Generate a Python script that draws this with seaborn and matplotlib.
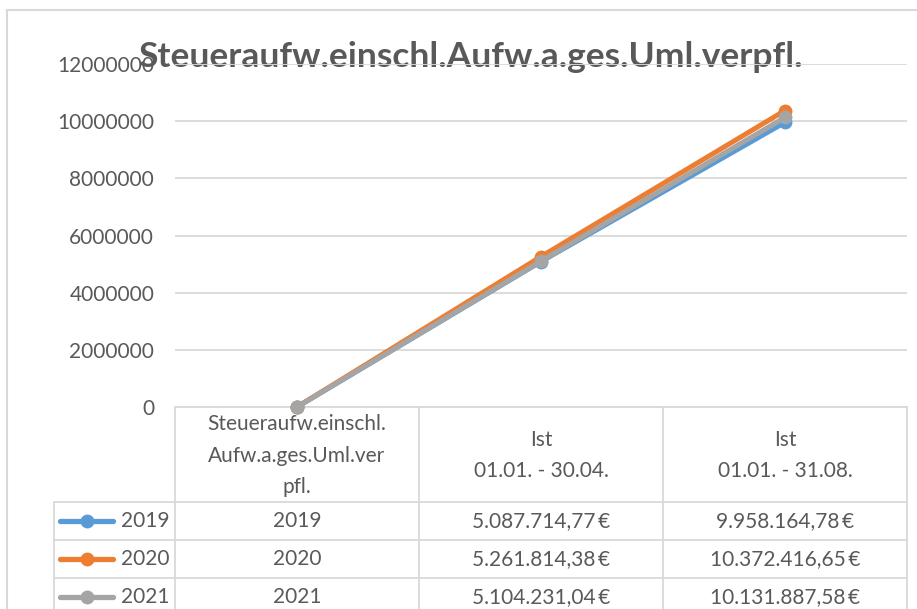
import pandas as pd
import matplotlib.pyplot as plt
import seaborn as sns
from matplotlib.ticker import MultipleLocator, FuncFormatter

# chart data
title = "Steueraufw.einschl.Aufw.a.ges.Uml.verpfl."
categories = ["Steueraufw.einschl.\nAufw.a.ges.Uml.ver\npfl.",
              "Ist\n01.01. - 30.04.",
              "Ist\n01.01. - 31.08."]
years = ["2019", "2020", "2021"]
values_2019 = [2019, 5087714.77, 9958164.78]
values_2020 = [2020, 5261814.38, 10372416.65]
values_2021 = [2021, 5104231.04, 10131887.58]
colors = ["#5B9BD5", "#ED7D31", "#A5A5A5"]

series = {"2019": values_2019, "2020": values_2020, "2021": values_2021}
rows = []
for year in years:
    for i, v in enumerate(series[year]):
        rows.append({"pos": i, "value": v, "year": year})
df = pd.DataFrame(rows)

TXT = "#595959"
GRID = "#D9D9D9"


def euro(v):
    s = f"{v:,.2f}".replace(",", "X").replace(".", ",").replace("X", ".")
    return s + "\u2009€"


sns.set_theme(style="white")
plt.rcParams["font.family"] = ["Lato", "DejaVu Sans"]

W, H = 917, 609
fig = plt.figure(figsize=(W / 100, H / 100), dpi=100)

# background axes in pixel coordinates for frame + data table
bg = fig.add_axes([0, 0, 1, 1])
bg.set_xlim(0, W)
bg.set_ylim(H, 0)
bg.axis("off")

# plot area (pixels)
px0, px1 = 175, 907
py_top, py_bot = 64, 407
ax = fig.add_axes([px0 / W, 1 - py_bot / H, (px1 - px0) / W, (py_bot - py_top) / H])
ax.patch.set_alpha(0)

sns.lineplot(data=df, x="pos", y="value", hue="year", palette=colors,
             marker="o", markersize=10, markeredgewidth=0, linewidth=3.6,
             legend=False, ax=ax)

ax.set_xlim(-0.5, len(categories) - 0.5)
ax.set_ylim(0, 12000000)
ax.yaxis.set_major_locator(MultipleLocator(2000000))
ax.yaxis.set_major_formatter(FuncFormatter(lambda v, p: f"{int(v)}"))
ax.set_xticks([])
ax.set_xlabel("")
ax.set_ylabel("")
ax.tick_params(axis="y", length=0, pad=15, labelsize=15, labelcolor=TXT)
ax.grid(axis="y", color=GRID, linewidth=1.3)
for s in ax.spines.values():
    s.set_visible(False)
for line in ax.get_lines():
    line.set_clip_on(False)

# outer chart frame
bg.plot([7, 7], [10, H], color=GRID, lw=1.5)
bg.plot([7, W], [10, 10], color=GRID, lw=1.5)

# title
bg.text(470, 57, title, ha="center", va="center", fontsize=25.5,
        fontweight="bold", color=TXT)

# data table
col_w = (px1 - px0) / len(categories)
col_edges = [px0 + i * col_w for i in range(len(categories) + 1)]
header_bot = 502
row_h = 38
leg_x0 = 54
row_lines = [header_bot + i * row_h for i in range(len(years) + 1)]

bg.plot([px0, px1], [py_bot, py_bot], color=GRID, lw=1.3)
for y in row_lines:
    bg.plot([leg_x0, px1], [y, y], color=GRID, lw=1.3)
for x in col_edges:
    bg.plot([x, x], [py_bot, H], color=GRID, lw=1.3)
bg.plot([leg_x0, leg_x0], [header_bot, H], color=GRID, lw=1.3)

for i, cat in enumerate(categories):
    cx = (col_edges[i] + col_edges[i + 1]) / 2
    bg.text(cx, (py_bot + header_bot) / 2 + 1, cat, ha="center", va="center",
            fontsize=15, color=TXT, linespacing=1.7)

for r, year in enumerate(years):
    cy = header_bot + r * row_h + row_h / 2
    for i, v in enumerate(series[year]):
        cx = (col_edges[i] + col_edges[i + 1]) / 2
        label = f"{int(v)}" if i == 0 else euro(v)
        bg.text(cx, cy, label, ha="center", va="center", fontsize=15, color=TXT)
    # legend key
    bg.plot([60, 113], [cy, cy], color=colors[r], lw=3.8, solid_capstyle="round")
    bg.plot([87], [cy], marker="o", markersize=10, color=colors[r], markeredgewidth=0)
    bg.text(169, cy, year, ha="right", va="center", fontsize=15, color=TXT)

fig.savefig("out.png", dpi=100)
